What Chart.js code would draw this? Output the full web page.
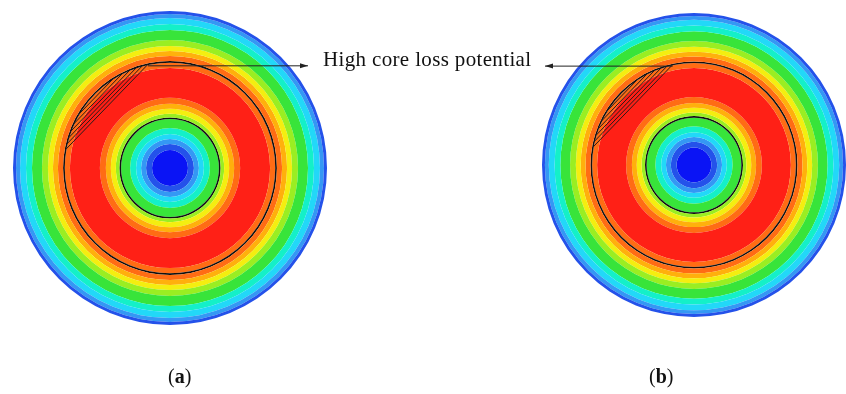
<!DOCTYPE html>
<html lang="en">
<head>
  <meta charset="UTF-8">
  <title>Core loss distribution</title>
  <script src="https://cdn.jsdelivr.net/npm/chart.js"></script>
  <style>
    html, body {
      margin: 0;
      padding: 0;
      background: #fff;
      overflow: hidden;
    }
    .stage {
      position: relative;
      width: 846px;
      height: 394px;
    }
    canvas {
      position: absolute;
      top: 0;
    }
    #diskA { left: 0; }
    #diskB { left: 423px; }
    .note {
      position: absolute;
      font-family: "Liberation Serif", "DejaVu Serif", serif;
      color: #111;
      white-space: nowrap;
    }
    #callout { left: 323px; top: 47px; font-size: 21px; letter-spacing: 0.35px; }
    .tag { top: 365px; font-size: 20px; }
    #tagA { left: 168px; }
    #tagB { left: 649px; }
  </style>
</head>
<body>
  <div class="stage">
    <canvas id="diskA" width="423" height="394"></canvas>
    <canvas id="diskB" width="423" height="394"></canvas>
    <div class="note" id="callout">High core loss potential</div>
    <div class="note tag" id="tagA">(<b>a</b>)</div>
    <div class="note tag" id="tagB">(<b>b</b>)</div>
  </div>

  <script>
    // contour bands from the rim inwards: outer radius of each band (disc radius = 157) and its loss level
    const bandRadius = [157, 154, 150, 144, 138, 128, 122, 117, 112, 100, 70, 64, 59, 54, 49, 40, 34, 29, 24, 18];
    const bandLevel  = [1, 2, 3, 4, 5, 6, 7, 8, 9, 10, 9, 8, 7, 6, 5, 4, 3, 2, 1, 0];
    // the two black reference circles (same radius units)
    const contourRadius = [106, 49.6];
    // hatched segment of the outer circle, degrees (canvas angle, clockwise from +x)
    const hatchArc = [190, 258];

    // jet-like palette, level 0 (low loss) .. 10 (high loss)
    const palette = ['#0a14f5', '#2452ea', '#3498f4', '#22d8f8', '#14f0c8', '#38e43a',
                     '#9aee22', '#f4ee10', '#ffb00c', '#ff6c14', '#ff2016'];
    const LINE = 1.7;

    function buildRings() {
      const rings = [];
      bandRadius.forEach((rOut, i) => {
        const rIn = i + 1 < bandRadius.length ? bandRadius[i + 1] : 0;
        const color = palette[bandLevel[i]];
        let top = rOut;
        contourRadius.filter(c => c < rOut && c > rIn).forEach(c => {
          rings.push({ w: top - (c + LINE / 2), color });
          rings.push({ w: LINE, color: '#111' });
          top = c - LINE / 2;
        });
        rings.push({ w: top - rIn, color });
      });
      return rings.map(r => ({
        data: [1],
        backgroundColor: r.color,
        weight: r.w,
        borderWidth: 0,
        hoverOffset: 0,
        offset: 0
      }));
    }

    // hatch + arrow drawn from the chart's own arc geometry
    const calloutPlugin = {
      id: 'callout',
      afterDraw(chart, args, opts) {
        const arc = chart.getDatasetMeta(0).data[0];
        const cx = arc.x, cy = arc.y;
        const R = contourRadius[0] * arc.outerRadius / bandRadius[0];
        const a1 = hatchArc[0] * Math.PI / 180, a2 = hatchArc[1] * Math.PI / 180;
        const mid = (a1 + a2) / 2, half = (a2 - a1) / 2;
        const nx = Math.cos(mid), ny = Math.sin(mid);
        const dx = -ny, dy = nx;
        const h = R * Math.cos(half);
        const ctx = chart.ctx;
        ctx.save();
        ctx.strokeStyle = '#2a1a1a';
        ctx.lineWidth = 1;
        for (let t = h; t < R - 0.8; t += 3) {
          const l = Math.sqrt(R * R - t * t);
          ctx.beginPath();
          ctx.moveTo(cx + nx * t - dx * l, cy + ny * t - dy * l);
          ctx.lineTo(cx + nx * t + dx * l, cy + ny * t + dy * l);
          ctx.stroke();
        }
        // arrow from the top end of the hatched segment to the label
        const px = cx + R * Math.cos(a2), py = cy + R * Math.sin(a2) + 1.5;
        const tip = opts.tipX, dir = Math.sign(tip - px);
        ctx.strokeStyle = '#222';
        ctx.beginPath();
        ctx.moveTo(px, py);
        ctx.lineTo(tip, py);
        ctx.stroke();
        ctx.fillStyle = '#222';
        ctx.beginPath();
        ctx.moveTo(tip, py);
        ctx.lineTo(tip - dir * 8, py - 2.5);
        ctx.lineTo(tip - dir * 8, py + 2.5);
        ctx.closePath();
        ctx.fill();
        ctx.restore();
      }
    };

    function makeDisk(id, padding, tipX) {
      return new Chart(document.getElementById(id), {
        type: 'doughnut',
        data: { labels: ['loss'], datasets: buildRings() },
        options: {
          responsive: false,
          animation: false,
          events: [],
          cutout: 0,
          layout: { padding },
          plugins: {
            legend: { display: false },
            tooltip: { enabled: false },
            title: { display: false },
            callout: { tipX }
          }
        },
        plugins: [calloutPlugin]
      });
    }

    makeDisk('diskA', { left: 13, right: 96, top: 11, bottom: 69 }, 308);
    makeDisk('diskB', { left: 119, right: 0, top: 13, bottom: 77 }, 122);
  </script>
</body>
</html>
